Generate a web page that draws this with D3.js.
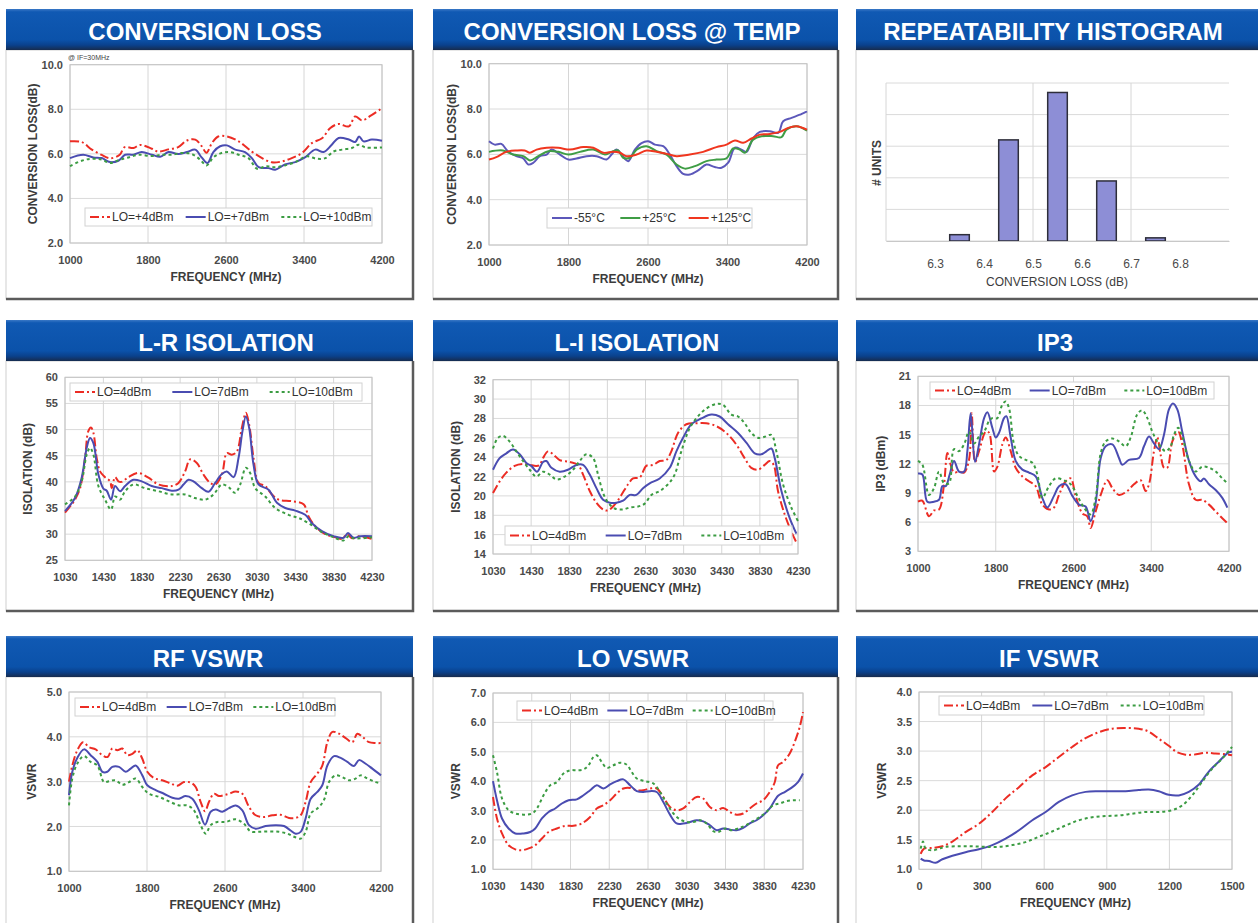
<!DOCTYPE html>
<html>
<head>
<meta charset="utf-8">
<title>Mixer characteristics</title>
<script src="https://cdnjs.cloudflare.com/ajax/libs/d3/7.8.5/d3.min.js"></script>
<style>
    body { margin: 0; background: #fff; }
    text { font-family: "Liberation Sans", Arial, sans-serif; }
    .title { fill: #fff; font-weight: bold; }
    .tick text { fill: #4a4a4a; font-size: 11px; font-weight: bold; font-family: "Liberation Sans", Arial, sans-serif; }
    .axis-title { fill: #3c3c3c; font-size: 12px; font-weight: bold; }
    .legend-text { fill: #333; font-size: 12px; }
</style>
</head>
<body>
<svg width="1258" height="923"></svg>
<script>
    // ---- data ([MHz, value]) ----
    var convLo4 = [[1000,6.56],[1120,6.53],[1220,6.2],[1325,5.95],[1410,5.8],[1510,5.96],[1560,6.3],[1650,6.26],[1720,6.4],[1840,6.23],[1905,6.1],[2010,6.2],[2110,6.3],[2200,6.6],[2285,6.64],[2350,6.35],[2400,6.05],[2455,6.48],[2520,6.78],[2610,6.78],[2730,6.56],[2865,6.1],[2970,5.81],[3070,5.62],[3175,5.66],[3275,5.81],[3380,6.04],[3480,6.48],[3585,6.7],[3670,7.16],[3755,7.34],[3860,7.23],[3925,7.68],[3995,7.5],[4080,7.7],[4200,8.05]];
    var convLo7 = [[1000,5.81],[1135,5.96],[1240,5.84],[1325,5.81],[1410,5.63],[1495,5.69],[1565,5.96],[1650,5.96],[1735,6.08],[1840,5.96],[1925,5.87],[2010,6.08],[2110,5.99],[2200,6.08],[2285,6.19],[2350,5.84],[2410,5.59],[2470,6.08],[2540,6.34],[2610,6.38],[2695,6.19],[2795,6.08],[2865,5.81],[2935,5.4],[3035,5.36],[3105,5.29],[3205,5.52],[3310,5.63],[3410,5.84],[3515,6.19],[3600,6.08],[3685,6.41],[3755,6.71],[3860,6.64],[3925,6.53],[3965,6.78],[4010,6.56],[4095,6.64],[4200,6.59]];
    var convLo10 = [[1000,5.45],[1120,5.69],[1220,5.78],[1325,5.74],[1410,5.59],[1510,5.74],[1600,5.84],[1700,5.96],[1840,5.9],[1940,5.96],[2045,5.96],[2150,6.04],[2250,5.99],[2335,5.74],[2400,5.48],[2470,5.84],[2555,6.04],[2640,6.08],[2730,5.96],[2830,5.81],[2920,5.33],[3005,5.44],[3105,5.4],[3205,5.48],[3310,5.63],[3430,5.89],[3530,5.78],[3620,5.81],[3700,6.1],[3790,6.19],[3890,6.26],[3960,6.41],[4030,6.29],[4200,6.29]];

    var tempM55 = [[1000,6.58],[1057,6.43],[1124,6.46],[1190,6.14],[1275,5.92],[1345,5.82],[1395,5.55],[1446,5.63],[1513,5.92],[1580,5.99],[1630,6.21],[1714,5.99],[1798,5.77],[1880,5.82],[1982,5.92],[2082,5.92],[2183,5.77],[2233,5.99],[2284,6.21],[2334,5.99],[2401,5.7],[2468,6.21],[2535,6.5],[2602,6.58],[2669,6.43],[2753,6.36],[2820,5.99],[2887,5.48],[2954,5.14],[3021,5.11],[3105,5.29],[3188,5.55],[3272,5.44],[3340,5.41],[3407,5.63],[3474,6.29],[3541,6.21],[3591,6.11],[3658,6.72],[3725,6.99],[3826,7.02],[3910,6.95],[3960,7.46],[4044,7.61],[4128,7.75],[4200,7.9]];
    var tempP25 = [[1000,6.11],[1141,6.17],[1241,5.99],[1345,5.92],[1412,5.73],[1496,5.92],[1597,6.14],[1697,6.11],[1798,5.99],[1915,6.11],[2049,6.21],[2166,5.99],[2233,6.11],[2300,6.17],[2350,5.85],[2418,5.85],[2485,6.21],[2585,6.36],[2686,6.14],[2787,5.99],[2887,5.55],[2971,5.37],[3072,5.48],[3188,5.7],[3289,5.77],[3390,5.82],[3457,6.26],[3524,6.21],[3574,6.07],[3658,6.65],[3742,6.8],[3859,6.8],[3943,6.76],[3993,7.09],[4094,7.24],[4200,7.05]];
    var tempP125 = [[1000,5.77],[1074,5.88],[1174,6.11],[1275,6.17],[1359,6.17],[1412,6.07],[1479,6.21],[1580,6.29],[1697,6.29],[1815,6.21],[1949,6.32],[2049,6.29],[2150,6.07],[2250,6.11],[2317,6.07],[2384,5.92],[2485,5.99],[2585,6.17],[2686,6.11],[2787,6.02],[2887,5.92],[3021,5.99],[3155,6.11],[3289,6.32],[3390,6.43],[3474,6.61],[3558,6.51],[3641,6.7],[3725,6.87],[3826,6.9],[3927,6.99],[4011,7.17],[4094,7.24],[4200,7.09]];

    var histBins = [6.35, 6.45, 6.55, 6.65, 6.75];
    var histCounts = [2, 32, 47, 19, 1];
    var histTicks = [6.3, 6.4, 6.5, 6.6, 6.7, 6.8];

    var lrLo4 = [[1030,34.1],[1100,35.7],[1134,36.6],[1187,38.8],[1239,44.6],[1273,49.7],[1301,50.4],[1326,49.4],[1360,44.6],[1395,42.0],[1447,40.9],[1500,40.1],[1517,38.8],[1552,40.9],[1587,40.1],[1621,40.0],[1691,40.9],[1795,41.7],[1900,40.8],[2004,39.5],[2143,39.2],[2213,39.8],[2282,42.0],[2334,44.3],[2404,43.6],[2473,41.4],[2543,39.8],[2595,39.5],[2665,41.4],[2717,45.5],[2769,45.2],[2821,45.8],[2873,50.3],[2915,53.2],[2950,50.9],[2995,44.6],[3047,39.8],[3117,39.2],[3187,37.6],[3256,36.6],[3395,36.3],[3517,35.7],[3569,33.4],[3639,31.5],[3743,30.0],[3848,29.4],[3917,29.1],[3969,30.0],[4022,29.2],[4091,29.6],[4230,29.1]];
    var lrLo7 = [[1030,34.4],[1134,36.9],[1204,40.8],[1256,46.5],[1291,48.4],[1326,47.4],[1378,41.4],[1430,38.7],[1465,38.3],[1510,36.6],[1552,39.2],[1604,38.2],[1656,39.2],[1743,40.4],[1830,40.1],[1934,39.2],[2039,38.8],[2143,38.3],[2213,38.5],[2265,39.5],[2317,40.4],[2369,40.1],[2456,38.8],[2525,38.1],[2595,39.8],[2665,41.5],[2717,42.0],[2787,40.9],[2839,44.6],[2880,49.7],[2915,52.5],[2950,50.3],[2995,43.3],[3047,39.5],[3152,38.5],[3239,36.0],[3326,35.0],[3430,34.5],[3534,33.7],[3604,32.1],[3708,30.6],[3830,29.6],[3934,29.3],[3980,30.2],[4039,29.3],[4108,29.6],[4230,29.6]];
    var lrLo10 = [[1030,35.7],[1134,37.2],[1204,40.1],[1256,45.2],[1291,46.5],[1326,45.2],[1378,39.2],[1447,36.6],[1510,34.7],[1552,37.2],[1604,36.6],[1656,38.2],[1743,39.5],[1865,38.8],[2004,38.2],[2143,37.6],[2282,37.6],[2386,36.9],[2491,36.6],[2578,37.6],[2665,39.5],[2734,39.0],[2804,37.9],[2856,39.5],[2915,42.7],[2960,41.7],[3013,38.8],[3117,37.2],[3221,35.0],[3360,33.7],[3465,33.1],[3569,32.1],[3708,30.4],[3830,29.4],[3934,28.8],[3986,29.6],[4039,29.2],[4230,29.4]];

    var liLo4 = [[1030,20.3],[1100,21.5],[1170,22.4],[1257,23.1],[1345,23.3],[1415,23.2],[1485,23.1],[1520,23.2],[1555,23.9],[1607,24.6],[1660,24.3],[1730,23.7],[1835,23.5],[1922,23.2],[1975,22.2],[2045,20.5],[2115,19.3],[2185,18.6],[2237,18.5],[2307,19.1],[2377,20.1],[2447,21.2],[2499,21.8],[2569,21.9],[2639,23.1],[2709,23.2],[2779,23.6],[2849,23.7],[2901,24.6],[2971,26.5],[3059,27.4],[3163,27.5],[3268,27.5],[3373,27.2],[3478,26.5],[3583,25.3],[3670,23.9],[3740,22.9],[3810,22.7],[3880,23.2],[3933,23.6],[3975,23.2],[4020,20.5],[4090,18.1],[4160,16.3],[4213,15.2]];
    var liLo7 = [[1030,22.7],[1100,23.9],[1170,24.4],[1240,24.8],[1310,24.3],[1380,23.4],[1432,23.1],[1492,22.5],[1555,23.5],[1590,23.6],[1643,22.9],[1730,22.5],[1817,22.7],[1905,23.2],[1975,23.2],[2045,22.2],[2115,20.8],[2185,19.6],[2255,19.3],[2325,19.3],[2395,19.5],[2465,20.1],[2534,20.1],[2604,20.8],[2674,21.3],[2779,21.8],[2884,22.9],[2954,24.6],[3024,26.0],[3111,27.4],[3216,28.0],[3321,28.4],[3408,28.2],[3496,27.4],[3601,26.5],[3688,25.5],[3776,24.4],[3846,24.3],[3898,24.6],[3951,24.9],[3986,23.9],[4056,20.5],[4143,17.7],[4213,16.1]];
    var liLo10 = [[1030,24.9],[1082,26.0],[1135,26.2],[1205,25.6],[1275,24.6],[1345,23.6],[1415,22.7],[1485,22.0],[1555,22.5],[1625,22.2],[1695,21.7],[1782,22.0],[1870,22.7],[1940,23.6],[2010,24.3],[2080,23.9],[2132,22.2],[2185,20.3],[2237,19.3],[2307,18.7],[2395,18.6],[2465,18.8],[2552,18.9],[2622,19.2],[2692,20.1],[2779,20.5],[2866,21.2],[2936,22.2],[3006,24.6],[3094,27.0],[3163,28.0],[3251,28.9],[3373,29.5],[3443,29.4],[3531,28.4],[3601,28.2],[3670,27.5],[3740,26.5],[3810,26.0],[3880,26.1],[3951,26.3],[4003,24.6],[4073,21.2],[4160,18.8],[4230,17.4]];

    var ip3Lo4 = [[1000,8.1],[1045,8.2],[1113,6.6],[1165,7.2],[1216,7.3],[1268,9.9],[1302,13.1],[1336,11.9],[1371,11.1],[1422,11.2],[1474,11.1],[1525,12.4],[1552,17.2],[1587,12.2],[1628,13.3],[1697,15.3],[1731,15.2],[1783,11.2],[1817,11.7],[1868,14.0],[1903,14.7],[1954,13.3],[2005,11.6],[2074,10.7],[2142,10.2],[2211,9.7],[2279,7.8],[2348,7.3],[2399,7.5],[2451,8.8],[2519,10.2],[2571,10.5],[2622,8.7],[2691,6.9],[2742,6.6],[2776,5.4],[2828,7.1],[2880,8.8],[2948,10.3],[3000,9.5],[3068,8.8],[3154,9.2],[3222,9.9],[3291,10.3],[3342,9.2],[3377,9.9],[3428,13.3],[3462,14.7],[3497,12.9],[3531,11.6],[3565,11.6],[3617,14.3],[3678,15.3],[3719,14.0],[3788,9.9],[3857,8.3],[3925,8.3],[3994,7.8],[4063,7.1],[4131,6.4],[4183,5.9]];
    var ip3Lo7 = [[1000,11.0],[1045,10.9],[1096,8.1],[1165,8.1],[1216,8.3],[1251,9.7],[1285,9.7],[1326,10.9],[1371,12.3],[1422,11.2],[1474,11.2],[1508,13.3],[1542,17.2],[1587,12.2],[1628,14.0],[1680,16.7],[1714,17.3],[1765,15.7],[1800,14.7],[1834,15.2],[1885,16.7],[1909,16.9],[1954,14.7],[2005,12.3],[2074,11.4],[2142,11.1],[2211,10.7],[2279,8.5],[2331,7.5],[2399,8.7],[2451,9.7],[2519,9.9],[2588,8.7],[2657,7.8],[2725,7.6],[2776,6.1],[2828,8.0],[2880,12.6],[2931,13.8],[3000,14.0],[3068,12.6],[3102,11.9],[3171,12.4],[3274,12.6],[3325,13.8],[3377,14.8],[3428,14.1],[3480,13.5],[3531,15.0],[3582,17.6],[3623,18.2],[3668,17.6],[3719,15.3],[3788,12.3],[3857,10.7],[3908,10.2],[3942,10.5],[3994,9.9],[4063,9.3],[4131,8.5],[4183,7.5]];
    var ip3Lo10 = [[1000,12.3],[1045,11.9],[1113,8.8],[1165,9.5],[1216,11.2],[1268,10.0],[1319,10.0],[1371,13.5],[1422,13.3],[1474,14.0],[1525,15.3],[1577,14.1],[1628,14.8],[1680,15.3],[1731,16.4],[1765,16.7],[1817,16.7],[1868,18.1],[1903,18.4],[1937,17.7],[1988,14.0],[2040,12.8],[2108,12.4],[2177,12.1],[2228,10.9],[2279,8.5],[2348,9.7],[2417,10.5],[2502,10.3],[2571,9.9],[2640,8.7],[2708,7.5],[2776,6.8],[2828,8.5],[2880,13.1],[2931,14.3],[3000,14.6],[3068,14.3],[3137,13.8],[3188,14.7],[3257,17.1],[3308,17.5],[3360,16.7],[3411,15.3],[3480,14.0],[3548,13.3],[3600,13.8],[3634,15.0],[3678,15.7],[3719,14.8],[3788,12.3],[3857,11.2],[3925,11.7],[3994,11.6],[4063,11.2],[4131,10.5],[4183,10.0]];

    var rfLo4 = [[1000,3.0],[1034,3.36],[1085,3.7],[1144,3.88],[1205,3.77],[1273,3.72],[1342,3.59],[1397,3.55],[1444,3.74],[1496,3.7],[1547,3.74],[1598,3.59],[1650,3.62],[1701,3.7],[1752,3.51],[1803,3.22],[1872,3.08],[1957,3.03],[2043,2.96],[2111,2.91],[2179,2.99],[2248,2.98],[2299,2.88],[2350,2.55],[2395,2.34],[2436,2.55],[2487,2.73],[2538,2.68],[2590,2.7],[2641,2.73],[2709,2.78],[2778,2.73],[2846,2.44],[2915,2.25],[3000,2.21],[3085,2.25],[3171,2.26],[3256,2.19],[3325,2.19],[3376,2.25],[3427,2.55],[3479,2.99],[3547,3.18],[3598,3.36],[3650,3.88],[3701,4.11],[3769,4.07],[3838,3.97],[3906,3.88],[3957,4.07],[4009,4.0],[4077,3.88],[4145,3.86],[4200,3.86]];
    var rfLo7 = [[1000,2.7],[1034,3.22],[1085,3.53],[1154,3.72],[1222,3.59],[1291,3.44],[1342,3.22],[1393,3.22],[1444,3.33],[1513,3.33],[1581,3.22],[1632,3.29],[1684,3.36],[1752,3.14],[1803,2.92],[1889,2.81],[1974,2.73],[2060,2.64],[2128,2.62],[2196,2.68],[2265,2.62],[2333,2.36],[2395,2.04],[2453,2.33],[2504,2.38],[2573,2.33],[2641,2.41],[2709,2.47],[2778,2.36],[2846,2.03],[2915,1.95],[3017,2.01],[3120,2.03],[3205,2.01],[3273,1.91],[3325,1.84],[3376,1.88],[3427,2.18],[3479,2.62],[3547,2.77],[3598,2.92],[3650,3.36],[3718,3.57],[3786,3.53],[3855,3.44],[3923,3.35],[3974,3.48],[4043,3.4],[4111,3.29],[4200,3.14]];
    var rfLo10 = [[1000,2.47],[1034,3.07],[1085,3.4],[1154,3.57],[1222,3.44],[1291,3.36],[1359,2.99],[1410,3.01],[1479,3.03],[1547,2.93],[1615,2.99],[1684,3.07],[1752,2.88],[1820,2.73],[1923,2.66],[2026,2.56],[2128,2.47],[2214,2.47],[2282,2.36],[2350,2.03],[2402,1.84],[2453,2.03],[2521,2.1],[2607,2.1],[2709,2.16],[2795,2.06],[2863,1.89],[2949,1.88],[3051,1.89],[3154,1.88],[3239,1.84],[3308,1.77],[3376,1.73],[3427,1.88],[3479,2.29],[3547,2.4],[3615,2.59],[3667,2.99],[3735,3.14],[3804,3.1],[3872,3.03],[3940,3.07],[3991,3.14],[4060,3.07],[4145,2.99],[4200,2.96]];

    var loLo4 = [[1030,3.46],[1071,2.73],[1123,2.22],[1191,1.82],[1260,1.68],[1329,1.65],[1398,1.71],[1466,1.82],[1535,2.05],[1604,2.27],[1690,2.39],[1776,2.48],[1861,2.48],[1947,2.56],[2033,2.78],[2101,3.07],[2170,3.18],[2239,3.35],[2308,3.58],[2376,3.75],[2445,3.77],[2514,3.69],[2582,3.69],[2651,3.75],[2720,3.75],[2788,3.46],[2857,3.12],[2926,3.01],[2994,3.07],[3063,3.29],[3132,3.46],[3200,3.41],[3269,3.12],[3338,3.01],[3406,3.09],[3475,2.95],[3544,2.86],[3613,2.9],[3681,3.07],[3750,3.24],[3819,3.35],[3887,3.63],[3939,3.97],[3973,4.54],[4024,4.65],[4093,4.94],[4144,5.33],[4196,5.84],[4230,6.35]];
    var loLo7 = [[1030,4.0],[1071,3.35],[1123,2.73],[1191,2.39],[1260,2.22],[1346,2.22],[1414,2.27],[1466,2.39],[1535,2.73],[1604,2.95],[1672,3.07],[1741,3.24],[1810,3.35],[1895,3.38],[1964,3.52],[2033,3.69],[2101,3.86],[2170,3.75],[2239,3.89],[2308,4.0],[2376,4.06],[2445,3.86],[2514,3.66],[2582,3.63],[2651,3.66],[2720,3.63],[2788,3.29],[2857,2.86],[2926,2.56],[2994,2.56],[3063,2.61],[3132,2.67],[3200,2.63],[3269,2.5],[3338,2.33],[3406,2.39],[3475,2.35],[3544,2.33],[3613,2.41],[3681,2.56],[3750,2.67],[3819,2.84],[3887,3.07],[3973,3.5],[4041,3.63],[4110,3.77],[4178,3.97],[4230,4.26]];
    var loLo10 = [[1030,4.88],[1071,4.31],[1123,3.41],[1191,3.01],[1260,2.9],[1346,2.86],[1432,2.9],[1483,3.07],[1552,3.52],[1621,3.86],[1690,3.97],[1758,4.26],[1827,4.37],[1895,4.37],[1964,4.4],[2016,4.54],[2067,4.82],[2101,4.88],[2153,4.65],[2205,4.45],[2273,4.54],[2342,4.63],[2411,4.56],[2462,4.31],[2514,4.09],[2600,4.0],[2686,3.92],[2754,3.63],[2823,3.24],[2892,2.9],[2960,2.7],[3029,2.61],[3098,2.61],[3166,2.67],[3235,2.56],[3303,2.3],[3355,2.27],[3424,2.39],[3492,2.33],[3561,2.39],[3630,2.48],[3698,2.61],[3784,2.78],[3853,2.95],[3922,3.18],[3990,3.24],[4059,3.32],[4127,3.35],[4196,3.35]];

    var ifLo4 = [[8,1.26],[24,1.35],[64,1.36],[112,1.39],[160,1.47],[223,1.63],[287,1.77],[351,1.97],[415,2.2],[479,2.39],[543,2.59],[607,2.73],[670,2.9],[734,3.07],[798,3.22],[862,3.32],[926,3.38],[990,3.39],[1053,3.38],[1101,3.33],[1149,3.21],[1197,3.09],[1237,2.98],[1277,2.94],[1317,2.94],[1372,2.97],[1420,2.96],[1484,2.94],[1500,2.93]];
    var ifLo7 = [[8,1.18],[24,1.15],[48,1.14],[80,1.11],[112,1.17],[160,1.23],[223,1.29],[287,1.34],[351,1.41],[415,1.52],[479,1.66],[543,1.83],[607,1.97],[670,2.14],[734,2.25],[798,2.31],[862,2.32],[926,2.32],[990,2.32],[1053,2.34],[1101,2.35],[1149,2.32],[1197,2.26],[1245,2.25],[1293,2.31],[1340,2.43],[1388,2.65],[1436,2.82],[1484,2.98],[1500,2.99]];
    var ifLo10 = [[8,1.35],[19,1.47],[32,1.35],[64,1.32],[96,1.35],[128,1.38],[191,1.39],[255,1.39],[319,1.38],[383,1.38],[447,1.41],[511,1.46],[574,1.55],[638,1.64],[702,1.74],[766,1.83],[830,1.88],[894,1.9],[957,1.91],[1021,1.94],[1085,1.97],[1149,1.97],[1213,2.0],[1261,2.08],[1309,2.25],[1357,2.48],[1404,2.7],[1452,2.87],[1500,3.07]];

    var rfTicks = [1000, 1800, 2600, 3400, 4200];
    var offTicks = [1030, 1430, 1830, 2230, 2630, 3030, 3430, 3830, 4230];
    var ifTicks = [0, 300, 600, 900, 1200, 1500];
    var lvlNames = ["LO=4dBm", "LO=7dBm", "LO=10dBm"];
    var lvlNamesPlus = ["LO=+4dBm", "LO=+7dBm", "LO=+10dBm"];
    var tempNames = ["-55°C", "+25°C", "+125°C"];

    // ---- drawing ----
    var svg = d3.select("svg");

    var RED = {color: "#ec2c24", dash: "9,3,2,3"},
        BLUE = {color: "#4a4cb1", dash: null},
        GREEN = {color: "#3b9c42", dash: "3,3"};
    var lvlStyles = [RED, BLUE, GREEN];
    var tempStyles = [{color: "#5c58ba", dash: null}, {color: "#3f9d45", dash: null}, {color: "#f0361f", dash: null}];

    var defs = svg.append("defs");
    var grad = defs.append("linearGradient").attr("id", "hdr").attr("x1", 0).attr("x2", 0).attr("y1", 0).attr("y2", 1);
    [[0, "#3a78c6"], [0.07, "#1059b3"], [0.75, "#0b52aa"], [0.88, "#0a418c"], [1, "#172c4e"]].forEach(function (s) {
        grad.append("stop").attr("offset", s[0]).attr("stop-color", s[1]);
    });

    var cols = [[6, 413], [433, 838], [856, 1262]];
    var rows = [[9, 299], [320, 611], [636, 935]];
    var HEAD = 41;

    function drawFrame(c, r, title, titleX, titleSize) {
        var x0 = cols[c][0], x1 = cols[c][1], top = rows[r][0], bottom = rows[r][1];
        var g = svg.append("g");
        g.append("rect").attr("x", x0).attr("y", top + HEAD).attr("width", x1 - x0).attr("height", bottom - top - HEAD)
            .attr("fill", "#fff").attr("stroke", "#cfcfcf");
        g.append("path").attr("d", "M" + x1 + "," + (top + HEAD) + "V" + bottom + "H" + x0)
            .attr("fill", "none").attr("stroke", "#5b5b5b").attr("stroke-width", 2.5);
        g.append("rect").attr("x", x0).attr("y", top).attr("width", x1 - x0).attr("height", HEAD).attr("fill", "url(#hdr)");
        g.append("text").attr("class", "title").attr("x", titleX).attr("y", top + 31)
            .attr("text-anchor", "middle").style("font-size", titleSize + "px").text(title);
    }

    function drawLegend(g, box, names, styles) {
        var w = box[2] - box[0], h = box[3] - box[1];
        g.append("rect").attr("x", box[0]).attr("y", box[1]).attr("width", w).attr("height", h)
            .attr("fill", "#fff").attr("stroke", "#d2d2d2");
        var item = g.selectAll(".legend").data(names).enter().append("g")
            .attr("transform", function (d, i) { return "translate(" + (box[0] + 5 + i * w / 3) + "," + (box[1] + h / 2) + ")"; });
        item.append("line").attr("x1", 0).attr("x2", 20).attr("y1", 0).attr("y2", 0)
            .attr("stroke", function (d, i) { return styles[i].color; })
            .attr("stroke-dasharray", function (d, i) { return styles[i].dash; })
            .attr("stroke-width", 2);
        item.append("text").attr("class", "legend-text").attr("x", 22).attr("dy", "0.36em").text(function (d) { return d; });
    }

    function drawLineChart(p) {
        var x = d3.scaleLinear().domain(p.xDomain).range([p.box[0], p.box[1]]);
        var y = d3.scaleLinear().domain(p.yDomain).range([p.box[3], p.box[2]]);
        var g = svg.append("g");

        g.append("g").selectAll("line").data(p.yTicks).enter().append("line")
            .attr("x1", p.box[0]).attr("x2", p.box[1])
            .attr("y1", function (d) { return y(d); }).attr("y2", function (d) { return y(d); })
            .attr("stroke", "#dadada");
        g.append("g").selectAll("line").data(p.xTicks).enter().append("line")
            .attr("y1", p.box[2]).attr("y2", p.box[3])
            .attr("x1", function (d) { return x(d); }).attr("x2", function (d) { return x(d); })
            .attr("stroke", "#d6d6d6");
        g.append("rect").attr("x", p.box[0]).attr("y", p.box[2])
            .attr("width", p.box[1] - p.box[0]).attr("height", p.box[3] - p.box[2])
            .attr("fill", "none").attr("stroke", "#c4c4c4");

        var ax = g.append("g").attr("transform", "translate(0," + p.box[3] + ")")
            .call(d3.axisBottom(x).tickValues(p.xTicks).tickFormat(d3.format("d")).tickSize(0).tickPadding(13));
        var ay = g.append("g").attr("transform", "translate(" + p.box[0] + ",0)")
            .call(d3.axisLeft(y).tickValues(p.yTicks).tickFormat(p.yFmt).tickSize(0).tickPadding(7));
        ax.select(".domain").remove();
        ay.select(".domain").remove();

        g.append("text").attr("class", "axis-title").attr("text-anchor", "middle")
            .attr("x", (p.box[0] + p.box[1]) / 2).attr("y", p.box[3] + 38).text("FREQUENCY (MHz)");
        g.append("text").attr("class", "axis-title").attr("text-anchor", "middle")
            .attr("transform", "translate(" + (p.box[0] - 33) + "," + ((p.box[2] + p.box[3]) / 2) + ") rotate(-90)")
            .text(p.yTitle);

        var line = d3.line()
            .x(function (d) { return x(d[0]); })
            .y(function (d) { return y(d[1]); })
            .curve(d3.curveCatmullRom.alpha(0.5));

        g.append("g").selectAll("path").data(p.series).enter().append("path")
            .attr("d", function (d) { return line(d); })
            .attr("fill", "none")
            .attr("stroke", function (d, i) { return p.styles[i].color; })
            .attr("stroke-dasharray", function (d, i) { return p.styles[i].dash; })
            .attr("stroke-width", 2);

        drawLegend(g, p.legend, p.names, p.styles);
        return g;
    }

    var f1 = d3.format(".1f"), f0 = d3.format("d");

    // row 1
    drawFrame(0, 0, "CONVERSION LOSS", 205, 24);
    var cl = drawLineChart({
        box: [70, 382, 64.7, 243], xDomain: [1000, 4200], yDomain: [2, 10],
        xTicks: rfTicks, yTicks: [2, 4, 6, 8, 10], yFmt: f1, yTitle: "CONVERSION LOSS(dB)",
        series: [convLo4, convLo7, convLo10], styles: lvlStyles, names: lvlNamesPlus,
        legend: [85, 208, 372, 226]
    });
    cl.append("text").attr("x", 68).attr("y", 60).style("font-size", "7px").attr("fill", "#444").text("@ IF=30MHz");

    drawFrame(1, 0, "CONVERSION LOSS @ TEMP", 632, 24);
    drawLineChart({
        box: [489, 807, 63.7, 245], xDomain: [1000, 4200], yDomain: [2, 10],
        xTicks: rfTicks, yTicks: [2, 4, 6, 8, 10], yFmt: f1, yTitle: "CONVERSION LOSS(dB)",
        series: [tempM55, tempP25, tempP125], styles: tempStyles, names: tempNames,
        legend: [547, 208, 752, 228]
    });

    drawFrame(2, 0, "REPEATABILITY HISTOGRAM", 1053, 24);
    (function () {
        var box = [886, 1229, 83, 241];
        var x = d3.scaleLinear().domain([6.2, 6.9]).range([box[0], box[1]]);
        var y = d3.scaleLinear().domain([0, 50]).range([box[3], box[2]]);
        var g = svg.append("g");
        g.append("g").selectAll("line").data(y.ticks(5)).enter().append("line")
            .attr("x1", box[0]).attr("x2", box[1])
            .attr("y1", function (d) { return y(d); }).attr("y2", function (d) { return y(d); })
            .attr("stroke", "#dadada");
        g.append("g").selectAll("line").data([6.5, 6.7]).enter().append("line")
            .attr("y1", box[2]).attr("y2", box[3])
            .attr("x1", function (d) { return x(d); }).attr("x2", function (d) { return x(d); })
            .attr("stroke", "#d6d6d6");
        g.append("line").attr("x1", box[0]).attr("x2", box[0]).attr("y1", box[2]).attr("y2", box[3]).attr("stroke", "#d6d6d6");
        var bw = x(6.39) - x(6.35);
        g.append("g").selectAll("rect").data(histCounts).enter().append("rect")
            .attr("x", function (d, i) { return x(histBins[i]) - bw / 2; })
            .attr("y", function (d) { return y(d); })
            .attr("width", bw)
            .attr("height", function (d) { return y(0) - y(d); })
            .attr("fill", "#8d8ed6").attr("stroke", "#2e2e3a").attr("stroke-width", 1.5);
        var ax = g.append("g").attr("transform", "translate(0," + box[3] + ")")
            .call(d3.axisBottom(x).tickValues(histTicks).tickFormat(d3.format(".1f")).tickSize(0).tickPadding(18));
        ax.select(".domain").attr("stroke", "#c8c8c8");
        ax.selectAll(".tick text").attr("fill", "#6a6a6a").style("font-weight", "normal").style("font-size", "12px");
        g.append("text").attr("class", "axis-title").attr("text-anchor", "middle").style("font-weight", "normal")
            .attr("x", 1057).attr("y", box[3] + 45).text("CONVERSION LOSS (dB)");
        g.append("text").attr("class", "axis-title").attr("text-anchor", "middle")
            .attr("transform", "translate(881,163) rotate(-90)").text("# UNITS");
    })();

    // row 2
    drawFrame(0, 1, "L-R ISOLATION", 226, 24);
    drawLineChart({
        box: [65, 372, 377.3, 560.3], xDomain: [1030, 4230], yDomain: [25, 60],
        xTicks: offTicks, yTicks: d3.range(25, 61, 5), yFmt: f0, yTitle: "ISOLATION (dB)",
        series: [lrLo4, lrLo7, lrLo10], styles: lvlStyles, names: lvlNames,
        legend: [70, 383, 362, 401]
    });

    drawFrame(1, 1, "L-I ISOLATION", 637, 24);
    drawLineChart({
        box: [493, 798, 379.7, 554], xDomain: [1030, 4230], yDomain: [14, 32],
        xTicks: offTicks, yTicks: d3.range(14, 33, 2), yFmt: f0, yTitle: "ISOLATION (dB)",
        series: [liLo4, liLo7, liLo10], styles: lvlStyles, names: lvlNames,
        legend: [505, 526, 792, 545]
    });

    drawFrame(2, 1, "IP3", 1055, 24);
    drawLineChart({
        box: [918, 1229, 376.3, 551.3], xDomain: [1000, 4200], yDomain: [3, 21],
        xTicks: rfTicks, yTicks: d3.range(3, 22, 3), yFmt: f0, yTitle: "IP3 (dBm)",
        series: [ip3Lo4, ip3Lo7, ip3Lo10], styles: lvlStyles, names: lvlNames,
        legend: [930, 382, 1214, 399]
    });

    // row 3
    drawFrame(0, 2, "RF VSWR", 208, 24);
    drawLineChart({
        box: [69, 381, 692, 871.3], xDomain: [1000, 4200], yDomain: [1, 5],
        xTicks: rfTicks, yTicks: [1, 2, 3, 4, 5], yFmt: f1, yTitle: "VSWR",
        series: [rfLo4, rfLo7, rfLo10], styles: lvlStyles, names: lvlNames,
        legend: [75, 698, 335, 716]
    });

    drawFrame(1, 2, "LO VSWR", 633, 24);
    drawLineChart({
        box: [493, 803, 693, 869.3], xDomain: [1030, 4230], yDomain: [1, 7],
        xTicks: offTicks, yTicks: [1, 2, 3, 4, 5, 6, 7], yFmt: f1, yTitle: "VSWR",
        series: [loLo4, loLo7, loLo10], styles: lvlStyles, names: lvlNames,
        legend: [517, 701, 773, 720]
    });

    drawFrame(2, 2, "IF VSWR", 1049, 24);
    drawLineChart({
        box: [919, 1232, 692, 869.3], xDomain: [0, 1500], yDomain: [1, 4],
        xTicks: ifTicks, yTicks: [1, 1.5, 2, 2.5, 3, 3.5, 4], yFmt: f1, yTitle: "VSWR",
        series: [ifLo4, ifLo7, ifLo10], styles: lvlStyles, names: lvlNames,
        legend: [939, 696, 1204, 715]
    });
</script>
</body>
</html>
